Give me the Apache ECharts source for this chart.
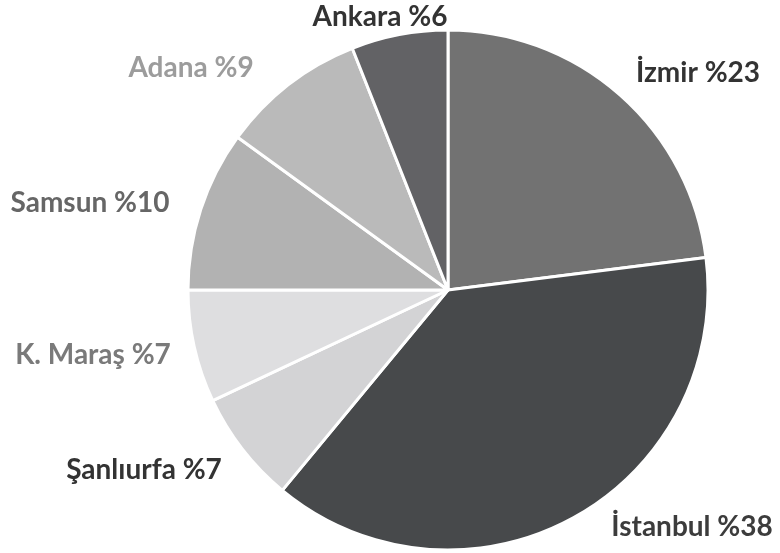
<!DOCTYPE html>
<html>
<head>
<meta charset="utf-8">
<script src="https://cdn.jsdelivr.net/npm/echarts@6/dist/echarts.min.js"></script>
<style>
  html, body { margin: 0; padding: 0; background: #ffffff; }
  #chart { width: 780px; height: 553px; }
</style>
</head>
<body>
<div id="chart"></div>
<script>
// Share of each city (percent), clockwise from 12 o'clock
const cities = ['İzmir', 'İstanbul', 'Şanlıurfa', 'K. Maraş', 'Samsun', 'Adana', 'Ankara'];
const shares = [23, 38, 7, 7, 10, 9, 6];

// Slice fills and label colours
const sliceColors = ['#727272', '#47494b', '#d3d3d5', '#dedee0', '#b2b2b2', '#bababa', '#626265'];
const labelColors = ['#333333', '#3c3c3c', '#333333', '#7a7a7a', '#666666', '#9c9c9c', '#333333'];

// Label anchor points (centre of each text)
const labelSpots = [[698, 73], [692, 527], [144, 470], [93, 355], [90, 203], [191, 68], [380, 17]];

const chart = echarts.init(document.getElementById('chart'), null, { renderer: 'canvas' });

chart.setOption({
  animation: false,
  backgroundColor: '#ffffff',
  series: [{
    type: 'pie',
    center: [448, 290],
    radius: [0, 260],
    startAngle: 90,
    clockwise: true,
    avoidLabelOverlap: false,
    itemStyle: { borderColor: '#ffffff', borderWidth: 3 },
    label: {
      show: true,
      position: 'outside',
      fontFamily: 'Lato',
      fontWeight: 'bold',
      fontSize: 28,
      formatter: p => p.name + ' %' + p.value
    },
    labelLine: { show: false },
    labelLayout: p => ({
      x: labelSpots[p.dataIndex][0],
      y: labelSpots[p.dataIndex][1],
      align: 'center',
      verticalAlign: 'middle'
    }),
    data: cities.map((c, i) => ({
      name: c,
      value: shares[i],
      itemStyle: { color: sliceColors[i] },
      label: { color: labelColors[i] }
    }))
  }]
});
</script>
</body>
</html>
